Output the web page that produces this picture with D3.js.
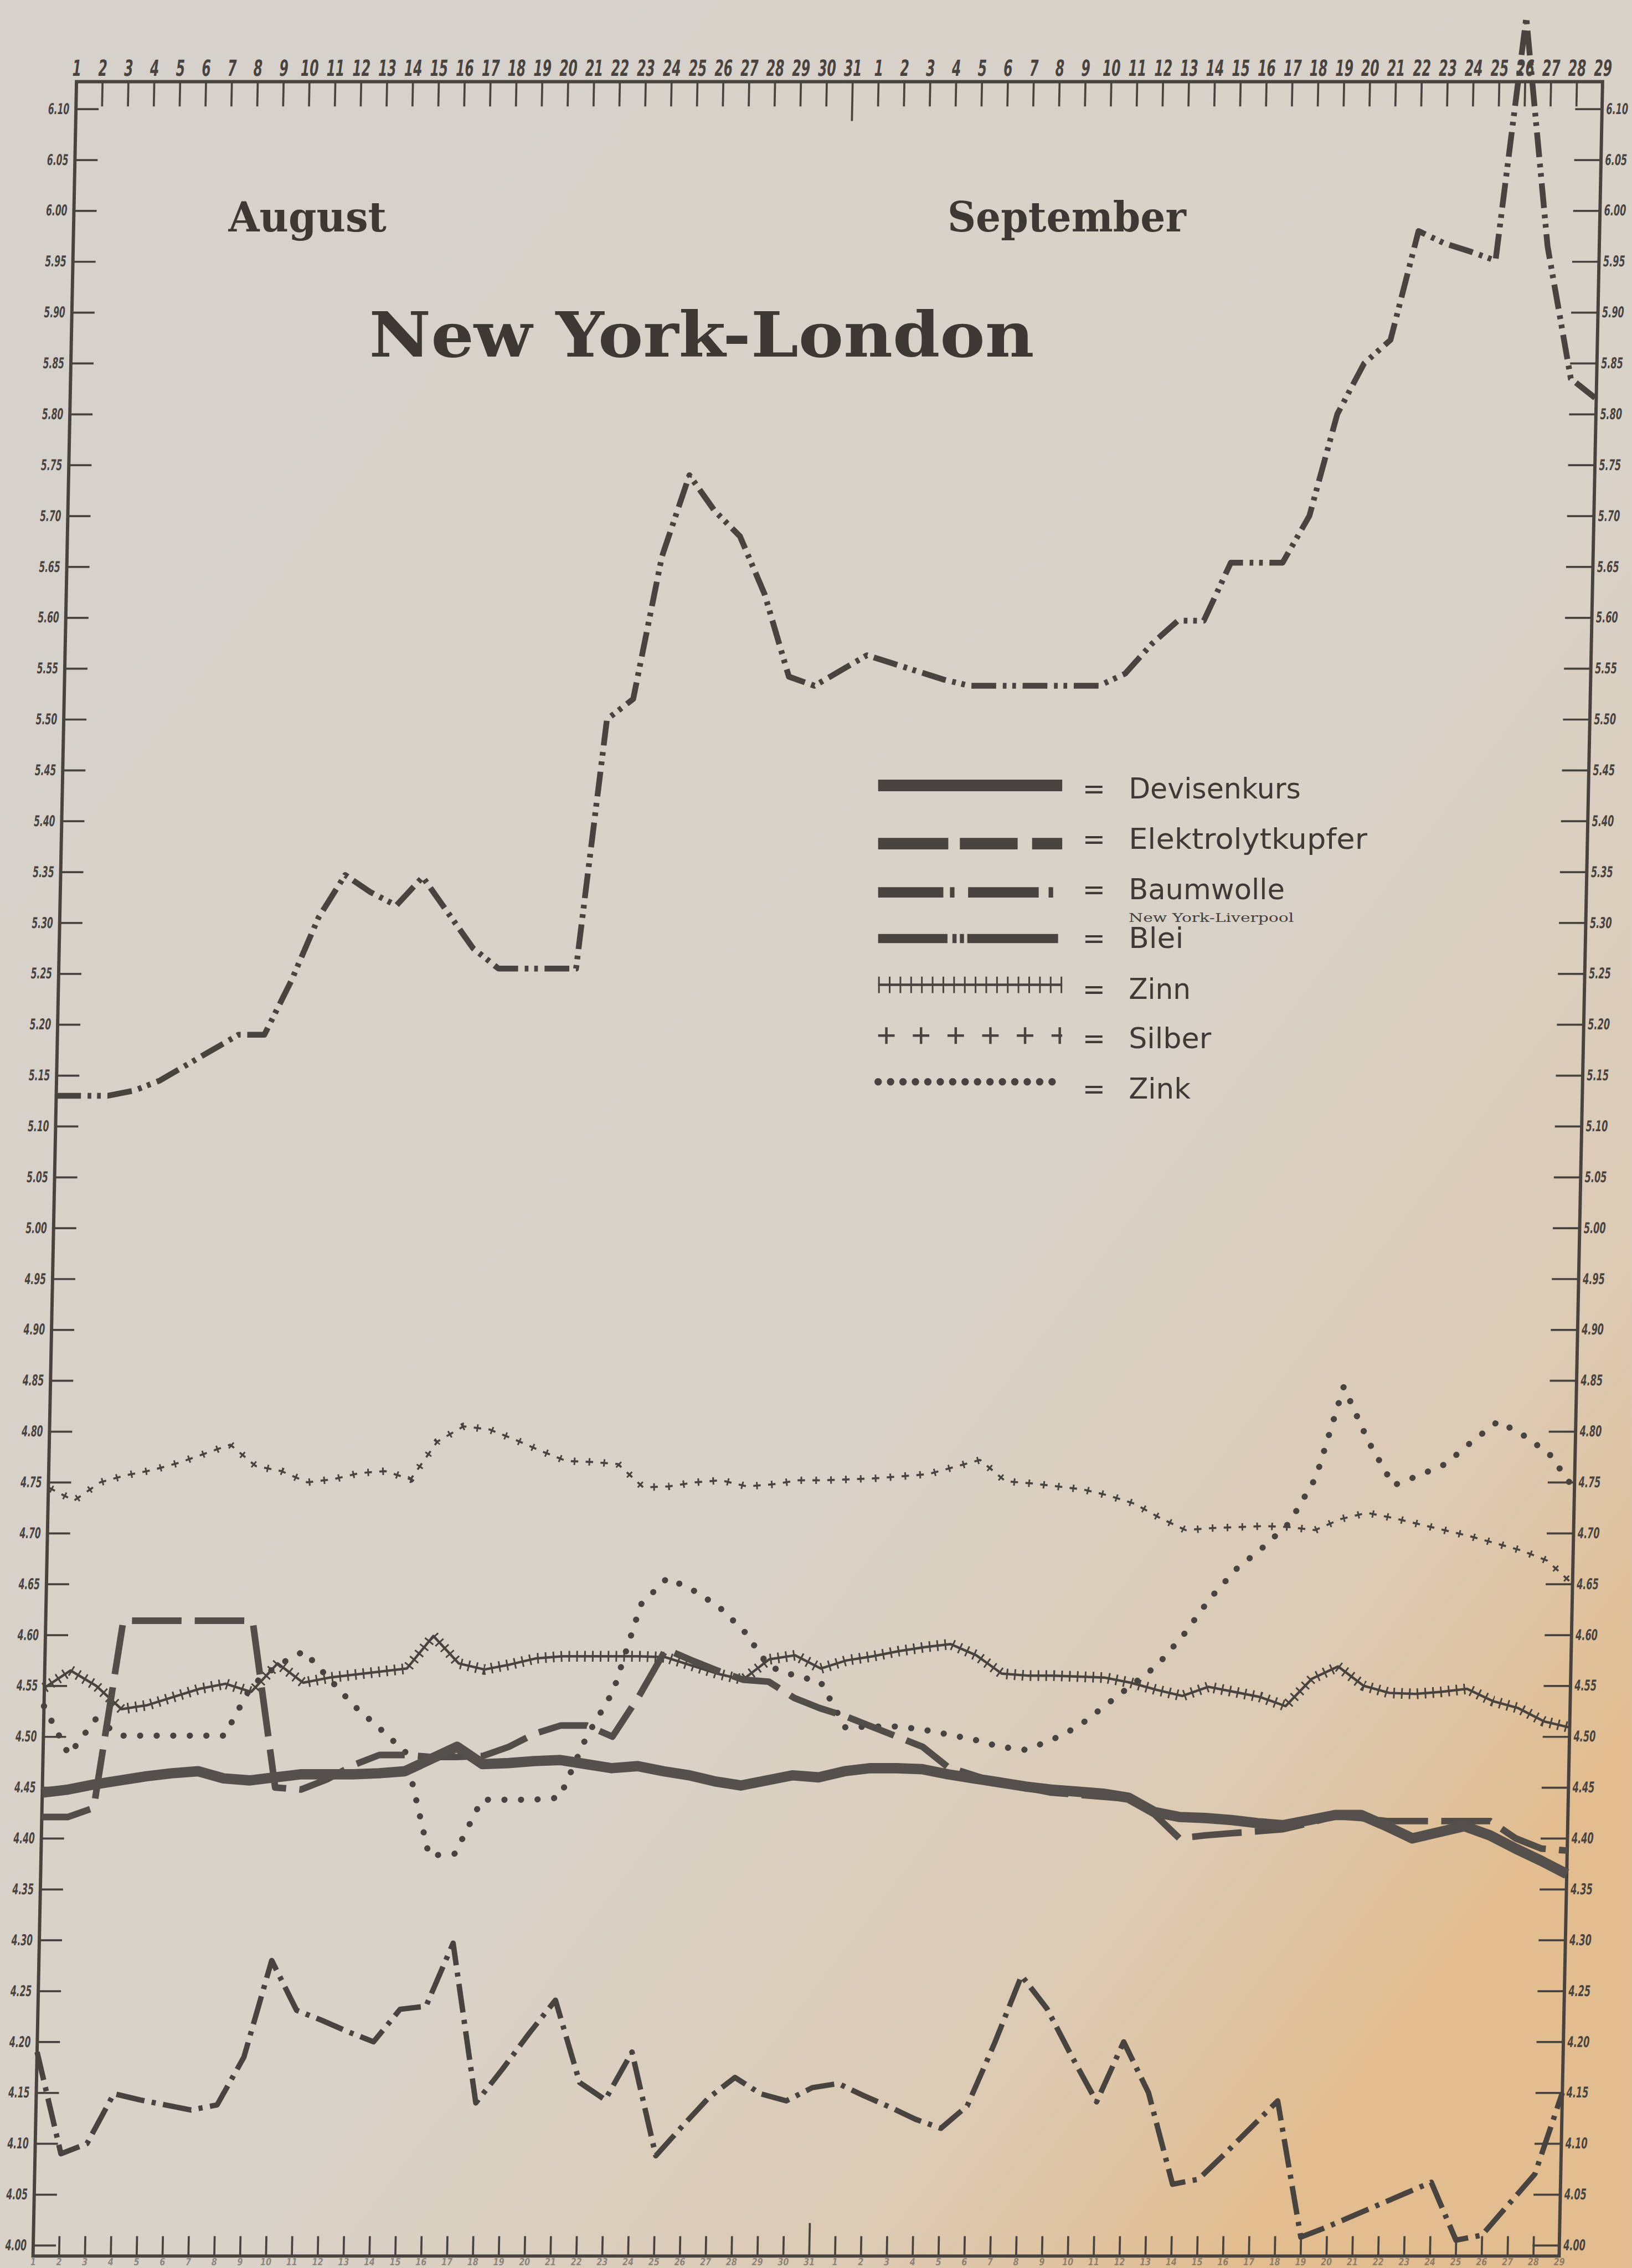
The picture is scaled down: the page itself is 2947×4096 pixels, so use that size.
<!DOCTYPE html>
<html>
<head>
<meta charset="utf-8">
<script src="https://cdn.jsdelivr.net/npm/d3@7"></script>
<style>
  html, body { margin: 0; padding: 0; background: #d8d2ca; }
  svg { display: block; }
</style>
</head>
<body>
<svg id="chart" width="2947" height="4096" viewBox="0 0 3953 5495"></svg>
<script>
// days: Aug 1..31, Sept 1..29
const days = d3.range(60);
const dayLabels = days.map(i => i < 31 ? i + 1 : i - 30);
const yTicks = d3.range(43).map(k => 4 + k * 0.05);

const devisen = [4.445, 4.448, 4.453, 4.457, 4.461, 4.464, 4.466, 4.459, 4.457, 4.46,
  4.463, 4.463, 4.463, 4.464, 4.466, 4.478, 4.49, 4.473, 4.474, 4.476,
  4.477, 4.473, 4.469, 4.471, 4.466, 4.462, 4.456, 4.452, 4.457, 4.462,
  4.46, 4.466, 4.469, 4.469, 4.468, 4.463, 4.459, 4.455, 4.451, 4.448,
  4.446, 4.444, 4.44, 4.426, 4.421, 4.42, 4.418, 4.415, 4.413, 4.418,
  4.423, 4.423, 4.412, 4.40, 4.406, 4.412, 4.403, 4.39, 4.378, 4.365];

const kupfer = [4.421, 4.421, 4.43, 4.614, 4.614, 4.614, 4.614, 4.614, 4.614, 4.45,
  4.448, 4.458, 4.472, 4.482, 4.482, 4.48, 4.48, 4.481, 4.49, 4.503,
  4.511, 4.511, 4.50, 4.54, 4.586, 4.575, 4.565, 4.556, 4.554, 4.538,
  4.528, 4.52, 4.51, 4.50, 4.49, 4.47, 4.462, 4.454, 4.45, 4.445,
  4.443, 4.441, 4.439, 4.424, 4.40, 4.403, 4.405, 4.407, 4.409, 4.415,
  4.422, 4.42, 4.417, 4.417, 4.417, 4.417, 4.417, 4.40, 4.39, 4.388];

const baumwolle = [4.19, 4.09, 4.10, 4.149, 4.143, 4.138, 4.133, 4.138, 4.185, 4.28,
  4.231, 4.221, 4.21, 4.20, 4.232, 4.235, 4.297, 4.14, 4.173, 4.208,
  4.241, 4.16, 4.143, 4.19, 4.088, 4.117, 4.145, 4.165, 4.149, 4.142,
  4.155, 4.159, 4.147, 4.136, 4.124, 4.115, 4.137, 4.198, 4.265, 4.233,
  4.186, 4.141, 4.20, 4.15, 4.06, 4.065, 4.09, 4.116, 4.142, 4.008,
  4.018, 4.029, 4.04, 4.051, 4.062, 4.005, 4.01, 4.04, 4.07, 4.15];

const blei = [5.13, 5.13, 5.13, 5.135, 5.145, 5.16, 5.175, 5.19, 5.19, 5.243,
  5.305, 5.347, 5.33, 5.317, 5.345, 5.31, 5.275, 5.255, 5.255, 5.255,
  5.255, 5.50, 5.52, 5.66, 5.74, 5.705, 5.68, 5.623, 5.542, 5.533,
  5.548, 5.563, 5.555, 5.547, 5.539, 5.533, 5.533, 5.533, 5.533, 5.533,
  5.533, 5.545, 5.574, 5.597, 5.597, 5.654, 5.654, 5.654, 5.70, 5.80,
  5.85, 5.873, 5.98, 5.968, 5.96, 5.951, 6.19, 5.965, 5.835, 5.815];

const zinn = [4.548, 4.565, 4.55, 4.527, 4.531, 4.539, 4.547, 4.552, 4.544, 4.572,
  4.553, 4.558, 4.561, 4.564, 4.567, 4.599, 4.572, 4.566, 4.571, 4.577,
  4.579, 4.579, 4.579, 4.579, 4.578, 4.57, 4.562, 4.556, 4.576, 4.58,
  4.567, 4.575, 4.579, 4.584, 4.588, 4.591, 4.58, 4.562, 4.56, 4.56,
  4.559, 4.558, 4.553, 4.546, 4.54, 4.549, 4.544, 4.539, 4.53, 4.557,
  4.569, 4.55, 4.543, 4.542, 4.544, 4.547, 4.535, 4.528, 4.515, 4.509];

const silber = [4.745, 4.732, 4.75, 4.757, 4.762, 4.769, 4.778, 4.787, 4.766, 4.761,
  4.75, 4.753, 4.759, 4.761, 4.753, 4.79, 4.805, 4.802, 4.792, 4.781,
  4.771, 4.77, 4.768, 4.745, 4.746, 4.75, 4.752, 4.746, 4.748, 4.752,
  4.752, 4.753, 4.754, 4.756, 4.758, 4.765, 4.772, 4.751, 4.749, 4.746,
  4.743, 4.737, 4.729, 4.715, 4.703, 4.705, 4.706, 4.707, 4.706, 4.703,
  4.714, 4.72, 4.715, 4.709, 4.703, 4.697, 4.69, 4.683, 4.673, 4.65];

const zink = [4.53, 4.482, 4.517, 4.501, 4.501, 4.501, 4.501, 4.501, 4.55, 4.57,
  4.584, 4.557, 4.53, 4.508, 4.485, 4.383, 4.385, 4.438, 4.438, 4.438,
  4.44, 4.50, 4.545, 4.63, 4.656, 4.644, 4.628, 4.604, 4.569, 4.56,
  4.554, 4.509, 4.51, 4.51, 4.507, 4.502, 4.497, 4.49, 4.487, 4.497,
  4.51, 4.53, 4.55, 4.57, 4.60, 4.636, 4.665, 4.686, 4.71, 4.755,
  4.844, 4.79, 4.747, 4.757, 4.768, 4.79, 4.81, 4.796, 4.778, 4.743];

const legendNames = ["Devisenkurs", "Elektrolytkupfer", "Baumwolle", "Blei", "Zinn", "Silber", "Zink"];

const W = 3953, H = 5495;
const ink = "#48433f";
const frame = { left: 189, right: 3886, top: 198, bottom: 5466 };

const svg = d3.select("#chart");

// paper, warming towards the bottom right corner
const grad = svg.append("defs").append("linearGradient")
  .attr("id", "paper").attr("x1", 0).attr("y1", 0.2).attr("x2", 0.75).attr("y2", 1);
[[0, "#d6d1cb"], [0.62, "#d9d2c8"], [0.86, "#dccab3"], [1, "#e2bd90"]]
  .forEach(([o, c]) => grad.append("stop").attr("offset", o).attr("stop-color", c));
svg.append("rect").attr("width", W).attr("height", H).attr("fill", "url(#paper)");

// the photographed page leans a little to the left going down
const plot = svg.append("g")
  .attr("transform", `skewX(${Math.atan(-0.02) * 180 / Math.PI})`);

const x = d3.scaleLinear().domain([0, 59]).range([frame.left, frame.right]);
const y = d3.scaleLinear().domain([4.0, 6.10]).range([5440, 264]);

// axes: hand lettered, narrow figures
function styleAxis(g, fs, sx) {
  g.select(".domain").remove();
  g.selectAll(".tick line").attr("stroke", ink).attr("stroke-width", 5);
  g.selectAll(".tick text")
    .attr("fill", ink)
    .attr("font-family", "DejaVu Sans")
    .attr("font-style", "italic")
    .attr("font-weight", "bold")
    .attr("font-size", fs)
    .each(function () {
      const t = d3.select(this);
      const tx = +t.attr("x") || 0;
      t.attr("x", 0).attr("transform", `translate(${tx},0) scale(${sx},1)`);
    });
}

const topAxis = plot.append("g")
  .attr("transform", `translate(0,${frame.top})`)
  .call(d3.axisTop(x).tickValues(days).tickFormat(i => dayLabels[i]).tickSize(-60).tickPadding(14));
styleAxis(topAxis, 54, 0.58);
topAxis.selectAll(".tick").filter(i => i === 30).select("line").attr("y2", 95);

const bottomAxis = plot.append("g")
  .attr("transform", `translate(0,${frame.bottom})`)
  .call(d3.axisBottom(x).tickValues(days).tickFormat(i => dayLabels[i]).tickSize(-48).tickPadding(5));
styleAxis(bottomAxis, 24, 0.8);
bottomAxis.selectAll(".tick text").attr("fill-opacity", 0.55);
bottomAxis.selectAll(".tick").filter(i => i === 30).select("line").attr("y2", -80);

const leftAxis = plot.append("g")
  .attr("transform", `translate(${frame.left},0)`)
  .call(d3.axisLeft(y).tickValues(yTicks).tickFormat(d3.format(".2f")).tickSize(-55).tickPadding(16));
styleAxis(leftAxis, 36, 0.58);

const rightAxis = plot.append("g")
  .attr("transform", `translate(${frame.right},0)`)
  .call(d3.axisRight(y).tickValues(yTicks).tickFormat(d3.format(".2f")).tickSize(-65).tickPadding(10));
styleAxis(rightAxis, 36, 0.6);

// frame
plot.append("rect")
  .attr("x", frame.left).attr("y", frame.top)
  .attr("width", frame.right - frame.left).attr("height", frame.bottom - frame.top)
  .attr("fill", "none").attr("stroke", ink).attr("stroke-width", 8);

// series
const series = [
  { values: zink, layers: [{ w: 15, dash: "0.1 40", cap: "round" }] },
  { values: silber, layers: [{ w: 5, dash: "18 18" }, { w: 18, dash: "4 32", off: -7 }] },
  { values: zinn, layers: [{ w: 6 }, { w: 26, dash: "4 15" }] },
  { values: kupfer, layers: [{ w: 16, dash: "120 32" }], color: "#524d48" },
  { values: devisen, layers: [{ w: 25 }], color: "#55504b" },
  { values: baumwolle, layers: [{ w: 13, dash: "70 18 10 18" }] },
  { values: blei, layers: [{ w: 14, dash: "60 16 9 14 9 16" }] }
];

const line = d3.line().x((d, i) => x(i)).y(d => y(d));

series.forEach(s => {
  s.layers.forEach(l => {
    plot.append("path")
      .datum(s.values)
      .attr("d", line)
      .attr("fill", "none")
      .attr("stroke", s.color || ink)
      .attr("stroke-width", l.w)
      .attr("stroke-linejoin", "round")
      .attr("stroke-linecap", l.cap || "butt")
      .attr("stroke-dasharray", l.dash || null)
      .attr("stroke-dashoffset", l.off || 0);
  });
});

// titles
function title(txt, xx, yy, fs, len) {
  svg.append("text")
    .attr("x", xx).attr("y", yy)
    .attr("font-family", "DejaVu Serif").attr("font-weight", "bold")
    .attr("font-size", fs).attr("fill", "#3d3834")
    .attr("textLength", len).attr("lengthAdjust", "spacingAndGlyphs")
    .text(txt);
}
title("August", 553, 561, 100, 383);
title("September", 2295, 561, 100, 578);
title("New York-London", 894, 864, 150, 1611);

// legend
const legendY = [1903, 2044, 2162, 2274, 2386, 2509, 2621];
const legendBase = [1935, 2056, 2179, 2297, 2420, 2540, 2661];
const legendLen = [417, 578, 378, 133, 150, 200, 150];
const legendSym = [
  [{ w: 28 }],
  [{ w: 28, dash: "170 28 140 35 74 200" }],
  [{ w: 25, dash: "158 16 11 33 171 24 11 200" }],
  [{ w: 22, dash: "168 12 10 8 10 8 220 200" }],
  [{ w: 6 }, { w: 40, dash: "4 22" }],
  [{ w: 6, dash: "40 44" }, { w: 40, dash: "6 78", off: -17 }],
  [{ w: 18, dash: "0.1 30", cap: "round" }]
];
const legend = svg.append("g");
legendNames.forEach((name, k) => {
  legendSym[k].forEach(l => {
    legend.append("path")
      .attr("d", `M2127,${legendY[k]}H2573`)
      .attr("fill", "none").attr("stroke", ink)
      .attr("stroke-width", l.w)
      .attr("stroke-linecap", l.cap || "butt")
      .attr("stroke-dasharray", l.dash || null)
      .attr("stroke-dashoffset", l.off || 0);
  });
  legend.append("text")
    .attr("x", 2622).attr("y", legendBase[k])
    .attr("font-family", "DejaVu Sans").attr("font-size", 66).attr("fill", "#3f3a36")
    .text("=");
  legend.append("text")
    .attr("x", 2734).attr("y", legendBase[k])
    .attr("font-family", "DejaVu Sans").attr("font-size", 68).attr("fill", "#3f3a36")
    .attr("textLength", legendLen[k]).attr("lengthAdjust", "spacingAndGlyphs")
    .text(name);
});
legend.append("text")
  .attr("x", 2734).attr("y", 2234)
  .attr("font-family", "DejaVu Serif").attr("font-size", 30).attr("fill", "#45403c")
  .attr("textLength", 400).attr("lengthAdjust", "spacingAndGlyphs")
  .text("New York-Liverpool");
</script>
</body>
</html>
